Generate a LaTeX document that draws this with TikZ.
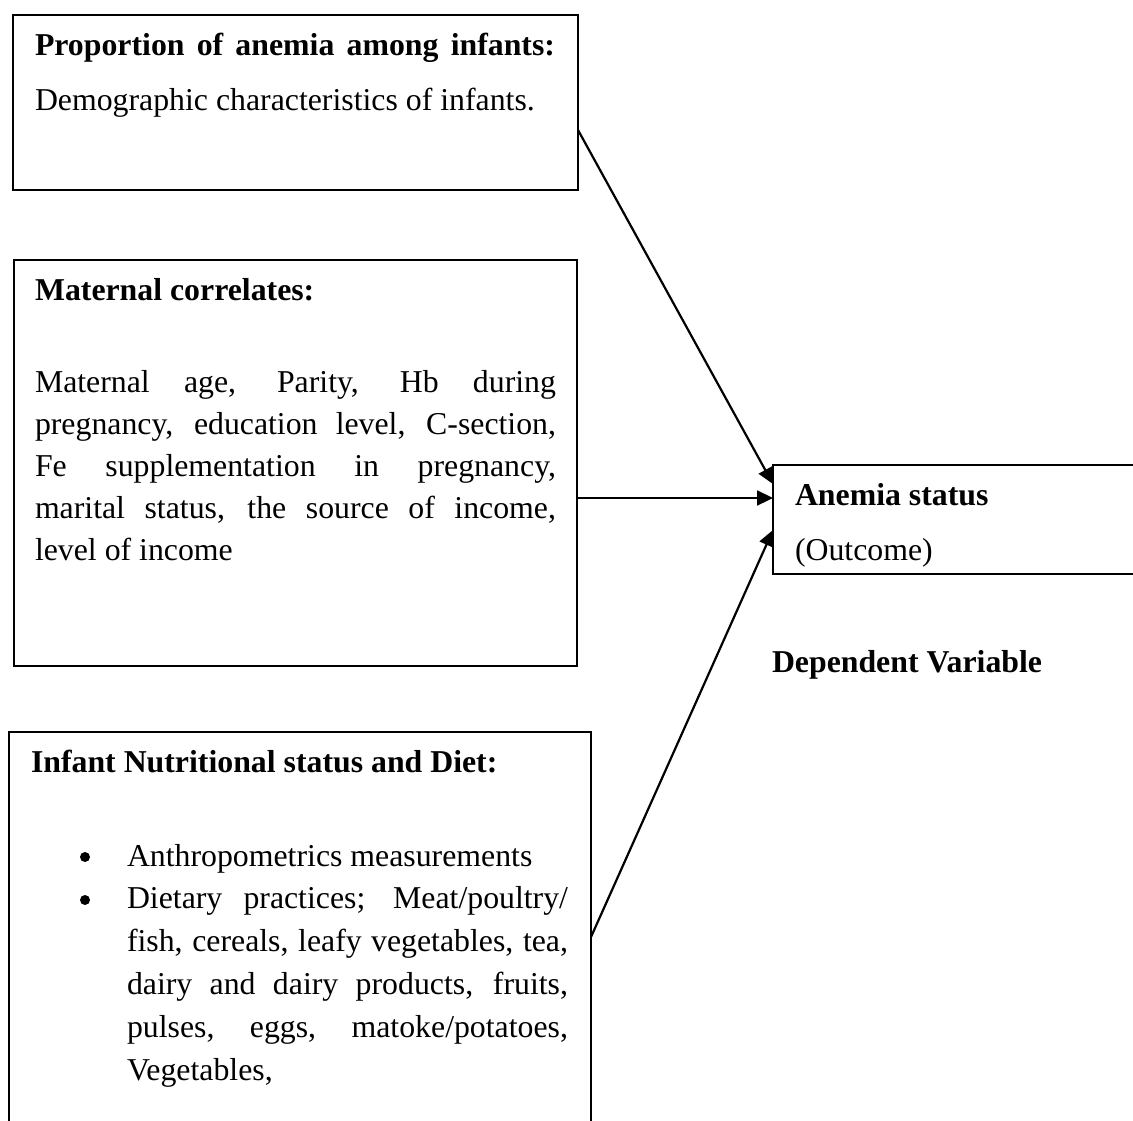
\documentclass[tikz,border=0pt]{standalone}
\usepackage{fontspec}
\setmainfont{Liberation Serif}
\usetikzlibrary{arrows.meta}
\begin{document}
\begin{tikzpicture}[x=1pt,y=-1pt,
  box/.style={draw=black, line width=1.8pt, rectangle, anchor=north west, inner sep=0pt, outer sep=0pt},
  txt/.style={anchor=base west, inner sep=0pt, outer sep=0pt, font=\fontsize{31.8}{42.5}\selectfont},
  btxt/.style={anchor=base west, inner sep=0pt, outer sep=0pt, font=\fontsize{31.8}{42.5}\selectfont\bfseries},
  bul/.style={circle, fill=black, inner sep=0pt, minimum size=10pt},
  arr/.style={line width=2.2pt, -{Triangle[length=16pt,width=15pt]}}
]
\useasboundingbox (0,0) rectangle (1133,1120);
\fill[white] (0,0) rectangle (1133,1120);

% boxes
\node[box, minimum width=565pt, minimum height=175pt] (b1) at (13,15) {};
\node[box, minimum width=563pt, minimum height=406pt] (b2) at (14,260) {};
\node[box, minimum width=582pt, minimum height=400pt] (b3) at (9,732) {};
\node[box, minimum width=380pt, minimum height=109pt] (out) at (773,465) {};

% box 1 text
\node[btxt] (t1) at (35,55) {\makebox[520pt][s]{Proportion of anemia among infants:}};
\node[txt] (t1b) at (35,110) {Demographic characteristics of infants.};

% box 2 text
\node[btxt] (t2) at (35,300) {Maternal correlates:};
\node[txt] (t2a) at (35,392) {\makebox[521pt][s]{Maternal age, Parity, Hb during}};
\node[txt] (t2b) at (35,434) {\makebox[521pt][s]{pregnancy, education level, C-section,}};
\node[txt] (t2c) at (35,476) {\makebox[521pt][s]{Fe supplementation in pregnancy,}};
\node[txt] (t2d) at (35,518) {\makebox[521pt][s]{marital status, the source of income,}};
\node[txt] (t2e) at (35,560) {level of income};

% box 3 text
\node[btxt] (t3) at (31,772) {Infant Nutritional status and Diet:};
\node[bul] (bu1) at (85,857) {};
\node[bul] (bu2) at (85,900) {};
\node[txt] (t3a) at (127,866) {Anthropometrics measurements};
\node[txt] (t3b) at (127,908.8) {\makebox[441pt][s]{Dietary practices; Meat/poultry/}};
\node[txt] (t3c) at (127,951.6) {\makebox[441pt][s]{fish, cereals, leafy vegetables, tea,}};
\node[txt] (t3d) at (127,994.4) {\makebox[441pt][s]{dairy and dairy products, fruits,}};
\node[txt] (t3e) at (127,1037.2) {\makebox[441pt][s]{pulses, eggs, matoke/potatoes,}};
\node[txt] (t3f) at (127,1080) {Vegetables,};

% outcome box text
\node[btxt] (o1) at (795,505) {Anemia status};
\node[txt] (o2) at (795,560) {(Outcome)};
\node[btxt] (dv) at (772,672) {Dependent Variable};

% arrows
\draw[arr] ([yshift=-115pt]b1.north east) -- ([yshift=-19pt]out.north west);
\draw[arr] ([yshift=-238pt]b2.north east) -- ([yshift=-33pt]out.north west);
\draw[arr] ([yshift=-205pt]b3.north east) -- ([yshift=-65pt]out.north west);
\end{tikzpicture}
\end{document}
